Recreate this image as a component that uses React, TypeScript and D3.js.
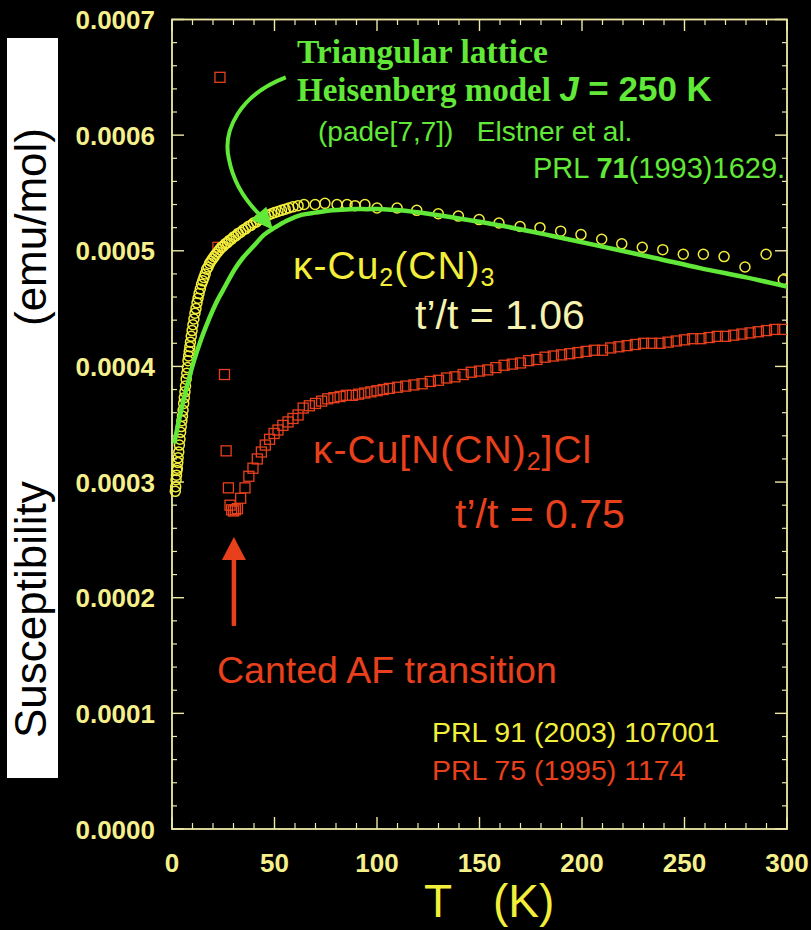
import React from 'react';
import * as d3 from 'd3';

const W = 811;
const H = 930;

// Temperature axis (K) and susceptibility axis (emu/mol)
const xTicks = [0, 50, 100, 150, 200, 250, 300];
const yTicks = [0, 0.0001, 0.0002, 0.0003, 0.0004, 0.0005, 0.0006, 0.0007];
const yTickLabels = ['0.0000', '0.0001', '0.0002', '0.0003', '0.0004', '0.0005', '0.0006', '0.0007'];

// κ-Cu2(CN)3 : T (K) and χ (10^-4 emu/mol)
const cnT = [
  1.6, 1.8, 2.0, 2.2, 2.4, 2.6, 2.8, 3.0, 3.3, 3.6, 3.9, 4.2, 4.5, 4.8, 5.1, 5.4, 5.7, 6.0, 6.3, 6.6,
  6.9, 7.2, 7.5, 7.8, 8.1, 8.4, 8.7, 9.0, 9.4, 9.8, 10.2, 10.7, 11.2, 11.7, 12.2, 12.7, 13.2, 13.8,
  14.4, 15.0, 15.6, 16.2, 16.9, 17.6, 18.3, 19.0, 19.8, 20.6, 21.4, 22.3, 23.2, 24.1, 25.0, 26.0,
  27.0, 28.0, 29.0, 30.1, 31.2, 32.3, 33.5, 34.7, 35.9, 37.2, 38.5, 39.8, 41.2, 42.6, 44.0, 45.5,
  47.0, 48.5, 50.0, 51.7, 53.4, 55.2, 57.0, 59.0, 61.5, 64.4, 69.8, 74.6, 80.5, 85.4, 89.3, 94.1,
  100.0, 109.8, 119.4, 129.9, 139.7, 149.8, 159.5, 169.8, 179.5, 189.6, 199.5, 209.6, 219.4, 229.4,
  239.4, 249.4, 259.2, 269.3, 279.5, 289.8, 298.2,
];
const cnChi = [
  2.92, 2.96, 3.02, 3.06, 3.10, 3.12, 3.17, 3.21, 3.26, 3.32, 3.37, 3.43, 3.48, 3.53, 3.57, 3.62, 3.68, 3.73, 3.78, 3.83,
  3.89, 3.94, 3.99, 4.05, 4.09, 4.13, 4.17, 4.21, 4.26, 4.31, 4.36, 4.41, 4.46, 4.50, 4.55, 4.59, 4.63, 4.67,
  4.71, 4.74, 4.77, 4.80, 4.84, 4.86, 4.89, 4.91, 4.93, 4.95, 4.97, 4.99, 5.01, 5.03, 5.04, 5.06,
  5.07, 5.09, 5.10, 5.12, 5.13, 5.15, 5.16, 5.18, 5.19, 5.21, 5.22, 5.24, 5.25, 5.27, 5.28, 5.30,
  5.31, 5.32, 5.33, 5.34, 5.35, 5.36, 5.37, 5.38, 5.39, 5.40, 5.40, 5.41, 5.40, 5.40, 5.39, 5.40,
  5.37, 5.37, 5.35, 5.32, 5.30, 5.27, 5.24, 5.21, 5.20, 5.17, 5.14, 5.10, 5.06, 5.03,
  5.01, 4.97, 4.97, 4.95, 4.86, 4.97, 4.75,
];

// κ-Cu[N(CN)2]Cl : T (K) and χ (10^-4 emu/mol)
const clT = [
  23.4, 22.4, 25.6, 26.4,
  27.5, 28.3, 29.1, 30.0, 30.9, 31.9, 33.5, 35.6, 37.5, 39.5, 41.6, 43.6, 45.5, 47.6, 49.8, 51.7,
  54.1, 56.6, 59.0, 61.5, 64.0, 67.0, 70.0, 73.0, 76.0, 79.0, 82.0, 85.0, 88.0, 91.0, 94.0, 97.0,
  100.0, 103.0, 106.0, 110, 114, 118, 122, 126, 130, 134, 138, 142, 146, 150, 154, 158, 162, 166,
  170, 174, 178, 182, 186, 190, 194, 198, 202, 206, 210, 214, 218, 222, 226, 230, 234, 238, 242,
  246, 250, 254, 258, 262, 266, 270, 274, 278, 282, 286, 290, 294, 298,
];
const clChi = [
  6.50, 5.03, 3.93, 3.27,
  2.95, 2.80, 2.76, 2.75, 2.76, 2.77, 2.86, 2.95, 3.05, 3.12, 3.20, 3.26, 3.32, 3.37, 3.42, 3.45,
  3.49, 3.52, 3.55, 3.58, 3.64, 3.66, 3.68, 3.70, 3.72, 3.73, 3.74, 3.75, 3.75, 3.76, 3.77, 3.78,
  3.79, 3.80, 3.81, 3.82, 3.83, 3.84, 3.85, 3.87, 3.88, 3.90, 3.91, 3.93, 3.95, 3.96, 3.97, 3.99, 4.01, 4.02,
  4.03, 4.05, 4.06, 4.08, 4.09, 4.10, 4.11, 4.12, 4.13, 4.14, 4.14, 4.16, 4.17, 4.18, 4.19, 4.20, 4.20, 4.20, 4.21,
  4.22, 4.23, 4.24, 4.24, 4.25, 4.26, 4.26, 4.27, 4.28, 4.29, 4.30, 4.31, 4.32, 4.32,
];

// Triangular-lattice Heisenberg model, J = 250 K (Padé [7,7])
const modelT = [
  1.3, 3.0, 5.5, 7.8, 10.4, 14.3, 16.9, 20.0, 22.4, 24.9, 30.6, 34.6, 40.3, 45.0, 50.1, 56.0,
  63.1, 70.0, 78.5, 87.0, 95.0, 103.0, 111.0, 125.0, 140.0, 160.0, 185.0, 208.8, 235.0, 257.6, 280.0, 300.0,
];
const modelChi = [
  3.35, 3.50, 3.70, 3.86, 4.03, 4.24, 4.36, 4.49, 4.58, 4.66, 4.84, 4.94, 5.05, 5.14, 5.20, 5.26,
  5.31, 5.33, 5.35, 5.36, 5.36, 5.36, 5.35, 5.32, 5.28, 5.22, 5.13, 5.04, 4.94, 4.85, 4.77, 4.69,
];

const GREEN = '#62e838';
const YELLOW = '#f2ee3a';
const RED = '#e8401c';
const FRAME = '#efe9a6';
const TICKTXT = '#f6f08c';
const SANS = '"Liberation Sans", Arial, Helvetica, sans-serif';
const SERIF = '"Liberation Serif", "Times New Roman", serif';

export default function App() {
  const x = d3.scaleLinear().domain([0, 300]).range([172, 787]);
  const y = d3.scaleLinear().domain([0, 0.0007]).range([829, 19.5]);
  const yc = (c: number) => y(c * 1e-4);

  const modelLine = d3
    .line<number>()
    .x((_, i) => x(modelT[i]))
    .y((_, i) => yc(modelChi[i]))
    .curve(d3.curveCatmullRom.alpha(0.5))(modelT);

  const xMinor = d3.range(10, 300, 10).filter((t) => t % 50 !== 0);
  const yMinor = d3.range(0.00002, 0.0007, 0.00002).filter((_, i) => (i + 1) % 5 !== 0);

  // curved pointer from the model caption onto the curve (T, χ·1e4 anchors)
  const p = (t: number, c: number) => `${x(t)},${yc(c)}`;
  const arrowPath = `M${p(55.5, 6.5)} C${p(33.2, 6.35)} ${p(24.4, 6.04)} ${p(27.8, 5.79)} C${p(30.2, 5.57)} ${p(37.1, 5.41)} ${p(42.9, 5.31)}`;
  const arrowHead = `${p(49.3, 5.18)} ${p(38.6, 5.27)} ${p(46.0, 5.38)}`;

  // transition marker arrow
  const ax = x(30.2);
  const aTip = yc(2.526);
  const aBase = yc(2.327);
  const aTail = yc(1.756);

  return (
    <svg width={W} height={H} style={{ position: 'absolute', left: 0, top: 0, display: 'block' }}>
      <defs>
        <clipPath id="plotClip">
          <rect x={165} y={19} width={622} height={811} />
        </clipPath>
      </defs>
      <rect x={0} y={0} width={W} height={H} fill="#000" />

      {/* y-axis title on white band */}
      <rect x={7} y={38} width={51} height={740} fill="#fff" />
      <text transform="translate(46,738) rotate(-90)" fontFamily={SANS} fontSize={44} fill="#000">
        Susceptibility
      </text>
      <text transform="translate(46,326) rotate(-90)" fontFamily={SANS} fontSize={44} fill="#000">
        (emu/mol)
      </text>

      {/* frame */}
      <rect x={172} y={19.5} width={615} height={809.5} fill="none" stroke={FRAME} strokeWidth={1.8} />

      {/* x ticks, bottom and top */}
      {xTicks.map((t) => (
        <g key={'xt' + t}>
          <line x1={x(t)} x2={x(t)} y1={829} y2={817} stroke={FRAME} strokeWidth={1.4} />
          <line x1={x(t)} x2={x(t)} y1={19.5} y2={31} stroke={FRAME} strokeWidth={1.4} />
        </g>
      ))}
      {xMinor.map((t) => (
        <g key={'xm' + t}>
          <line x1={x(t)} x2={x(t)} y1={829} y2={823} stroke={FRAME} strokeWidth={1.2} />
          <line x1={x(t)} x2={x(t)} y1={19.5} y2={25} stroke={FRAME} strokeWidth={1.2} />
        </g>
      ))}
      {yTicks.map((v) => (
        <g key={'yt' + v}>
          <line x1={172} x2={184} y1={y(v)} y2={y(v)} stroke={FRAME} strokeWidth={1.4} />
          <line x1={787} x2={775} y1={y(v)} y2={y(v)} stroke={FRAME} strokeWidth={1.4} />
        </g>
      ))}
      {yMinor.map((v, i) => (
        <g key={'ym' + i}>
          <line x1={172} x2={177} y1={y(v)} y2={y(v)} stroke={FRAME} strokeWidth={1.2} />
          <line x1={787} x2={782} y1={y(v)} y2={y(v)} stroke={FRAME} strokeWidth={1.2} />
        </g>
      ))}

      {/* tick labels */}
      {yTicks.map((v, i) => (
        <text
          key={'yl' + v}
          x={155}
          y={y(v) + 9.5}
          textAnchor="end"
          fontFamily={SANS}
          fontWeight="bold"
          fontSize={26}
          fill={TICKTXT}
        >
          {yTickLabels[i]}
        </text>
      ))}
      {xTicks.map((t) => (
        <text
          key={'xl' + t}
          x={x(t)}
          y={872}
          textAnchor="middle"
          fontFamily={SANS}
          fontWeight="bold"
          fontSize={26}
          fill={TICKTXT}
        >
          {t}
        </text>
      ))}

      {/* x-axis title */}
      <text x={424} y={917} fontFamily={SANS} fontSize={46} fill={YELLOW}>
        T
      </text>
      <text x={493} y={917} fontFamily={SANS} fontSize={46} fill={YELLOW}>
        (K)
      </text>

      {/* data */}
      <g clipPath="url(#plotClip)">
        {clT.map((t, i) => (
          <rect
            key={'cl' + i}
            x={x(t) - 5}
            y={yc(clChi[i]) - 5}
            width={10}
            height={10}
            fill="none"
            stroke={RED}
            strokeWidth={1.3}
          />
        ))}
        {cnT.map((t, i) => (
          <circle
            key={'cn' + i}
            cx={x(t)}
            cy={yc(cnChi[i])}
            r={5}
            fill="none"
            stroke={YELLOW}
            strokeWidth={1.5}
          />
        ))}
        <path d={modelLine ?? ''} fill="none" stroke={GREEN} strokeWidth={4.5} strokeLinecap="round" />
      </g>

      {/* model pointer */}
      <path d={arrowPath} fill="none" stroke={GREEN} strokeWidth={4} />
      <polygon points={arrowHead} fill={GREEN} />

      {/* model caption */}
      <text x={297} y={63} fontFamily={SERIF} fontWeight="bold" fontSize={33.5} fill={GREEN}>
        Triangular lattice
      </text>
      <text x={297} y={101} fontFamily={SERIF} fontWeight="bold" fontSize={33} fill={GREEN}>
        Heisenberg model{' '}
        <tspan fontFamily={SANS} fontSize={35} fontStyle="italic">J</tspan>
        <tspan fontFamily={SANS} fontSize={35}> = 250 K</tspan>
      </text>
      <text x={318} y={141} fontFamily={SANS} fontSize={28} fill={GREEN} xmlSpace="preserve">
        (pade[7,7])   Elstner et al.
      </text>
      <text x={533} y={178} fontFamily={SANS} fontSize={29} fill={GREEN}>
        PRL <tspan fontWeight="bold">71</tspan>(1993)1629.
      </text>

      {/* compound labels */}
      <text x={293} y={279} fontFamily={SANS} fontSize={39} letterSpacing={1} fill={YELLOW}>
        κ-Cu<tspan fontSize={25} dy={7}>2</tspan>
        <tspan dy={-7}>(CN)</tspan>
        <tspan fontSize={25} dy={7}>3</tspan>
      </text>
      <text x={415} y={329} fontFamily={SANS} fontSize={41} fill="#f6f2b0">
        t’/t = 1.06
      </text>
      <text x={313} y={463} fontFamily={SANS} fontSize={39} letterSpacing={1} fill={RED}>
        κ-Cu[N(CN)<tspan fontSize={25} dy={7}>2</tspan>
        <tspan dy={-7}>]Cl</tspan>
      </text>
      <text x={455} y={528} fontFamily={SANS} fontSize={41} fill={RED}>
        t’/t = 0.75
      </text>

      {/* transition marker */}
      <line x1={ax} x2={ax} y1={aTail} y2={aBase} stroke={RED} strokeWidth={4.5} />
      <polygon points={`${ax},${aTip} ${ax - 12},${aBase} ${ax + 12},${aBase}`} fill={RED} />
      <text x={217} y={683} fontFamily={SANS} fontSize={37.5} fill={RED}>
        Canted AF transition
      </text>

      {/* references */}
      <text x={432} y={742} fontFamily={SANS} fontSize={28.5} fill={YELLOW}>
        PRL 91 (2003) 107001
      </text>
      <text x={432} y={780} fontFamily={SANS} fontSize={28.5} fill={RED}>
        PRL 75 (1995) 1174
      </text>
    </svg>
  );
}
